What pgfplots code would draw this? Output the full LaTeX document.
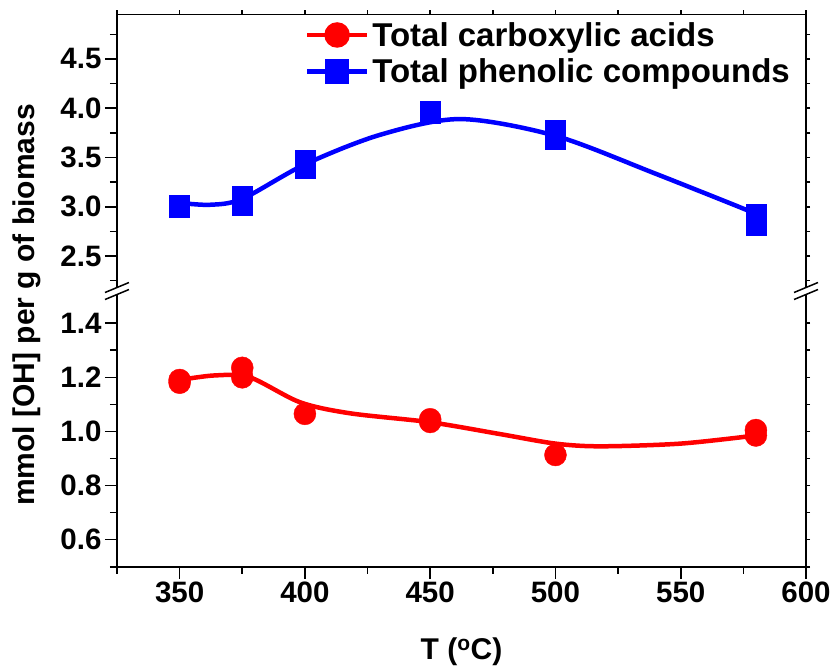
\documentclass[border=0pt]{standalone}
\usepackage{fontspec}
\setmainfont{Liberation Sans}
\usepackage{pgfplots}
\pgfplotsset{compat=1.18}

\definecolor{cRed}{RGB}{255,0,0}
\definecolor{cBlue}{RGB}{0,0,255}

\pgfplotsset{
  panel/.style={
    scale only axis, width=689pt, xmin=325, xmax=600,
    tick align=outside,
    axis line style={draw=none},
    /pgf/number format/assume math mode=true,
    tick label style={font=\fontsize{29.5}{33}\selectfont\bfseries},
    yticklabel style={/pgf/number format/fixed,/pgf/number format/fixed zerofill,/pgf/number format/precision=1},
    major tick length=12pt, minor tick length=7pt,
    every tick/.style={line width=1.6pt, black},
  },
  mirror/.style={
    panel,
    yticklabels={}, xticklabels={},
    major tick length=4pt, minor tick length=4pt,
  },
}

\begin{document}
\begin{tikzpicture}
\useasboundingbox (-117pt,14.3pt) rectangle (713pt,-655.7pt);

% ---- upper panel: phenolic compounds ----
\begin{axis}[panel, name=up, at={(0pt,0pt)}, anchor=north west,
  height=276.7pt, ymin=2.145, ymax=4.953,
  ytick={2.5,3.0,3.5,4.0,4.5}, minor ytick={2.25,2.75,3.25,3.75,4.25,4.75},
  ytick pos=left, xtick=\empty,
  legend style={draw=none, fill=none, at={(axis description cs:0.268,0.99)}, anchor=north west,
    font=\fontsize{33}{37}\selectfont\bfseries, row sep=5pt,
    nodes={inner sep=3pt}},
  legend cell align=left,
  legend image code/.code={\draw[mark repeat=2,mark phase=2,#1] plot coordinates {(0pt,0pt) (30pt,0pt) (60pt,0pt)};},
]
\addlegendimage{cRed, line width=4.5pt, mark=*, mark size=10.5pt}
\addlegendentry{Total carboxylic acids}
\addlegendimage{cBlue, line width=4.5pt, mark=square*, mark size=10pt}
\addlegendentry{Total phenolic compounds}

% smoothed trend
\addplot[cBlue, line width=4.5pt, smooth, forget plot] coordinates {
  (350,3.04) (362,3.02) (375,3.08) (400,3.43) (430,3.73)
  (462,3.89) (500,3.72) (540,3.335) (580,2.93)
};
% measured values
\addplot[only marks, mark=square*, mark size=10pt, cBlue, forget plot] coordinates {
  (350,3.02) (350,3.00) (375,3.11) (375,3.02) (400,3.47) (400,3.39)
  (450,3.97) (450,3.95) (500,3.78) (500,3.69) (580,2.92) (580,2.81)
};
\end{axis}
\begin{axis}[mirror, at={(0pt,0pt)}, anchor=north west,
  height=276.7pt, ymin=2.145, ymax=4.953,
  ytick={2.5,3.0,3.5,4.0,4.5}, minor ytick={2.25,2.75,3.25,3.75,4.25,4.75},
  xtick={350,400,...,600}, minor xtick={325,375,...,575},
  ytick pos=right, xtick pos=right]
\end{axis}

% ---- lower panel: carboxylic acids ----
\begin{axis}[panel, name=low, at={(0pt,-276.7pt)}, anchor=north west,
  height=275.7pt, ymin=0.5, ymax=1.519,
  ytick={0.6,0.8,1.0,1.2,1.4}, minor ytick={0.5,0.7,0.9,1.1,1.3},
  xtick={350,400,...,600}, minor xtick={325,375,...,575},
  ytick pos=left, xtick pos=left,
]
\addplot[cRed, line width=4.5pt, smooth, forget plot] coordinates {
  (350,1.19) (364,1.207) (378,1.20) (398,1.108) (418,1.067) (450,1.034)
  (478,0.99) (500,0.955) (518,0.945) (550,0.955) (580,0.985)
};
\addplot[only marks, mark=*, mark size=11pt, cRed, forget plot] coordinates {
  (350,1.19) (350,1.18) (375,1.235) (375,1.20) (400,1.065)
  (450,1.045) (450,1.035) (500,0.913) (580,1.005) (580,0.985)
};
\end{axis}
\begin{axis}[mirror, at={(0pt,-276.7pt)}, anchor=north west,
  height=275.7pt, ymin=0.5, ymax=1.519,
  ytick={0.6,0.8,1.0,1.2,1.4}, minor ytick={0.5,0.7,0.9,1.1,1.3},
  xtick=\empty, ytick pos=right]
\end{axis}

% frame
\draw[line width=1.6pt] (low.south west) rectangle (up.north east);

% axis break marks
\foreach \xb in {0pt,689pt}{
  \fill[white] (\xb-12pt,-276.7pt-8.5pt) -- (\xb+12pt,-276.7pt+1.5pt) -- (\xb+12pt,-276.7pt+8.5pt) -- (\xb-12pt,-276.7pt-1.5pt) -- cycle;
  \draw[line width=1.5pt] (\xb-12pt,-276.7pt-8.5pt) -- (\xb+12pt,-276.7pt+1.5pt);
  \draw[line width=1.5pt] (\xb-12pt,-276.7pt-1.5pt) -- (\xb+12pt,-276.7pt+8.5pt);
}

% axis titles
\node[rotate=90, font=\fontsize{30}{34}\selectfont\bfseries] at (-90pt,-290.7pt) {mmol [OH] per g of biomass};
\node[font=\fontsize{30}{34}\selectfont\bfseries] at (344.5pt,-637.7pt) {T (\textsuperscript{o}C)};
\end{tikzpicture}
\end{document}
